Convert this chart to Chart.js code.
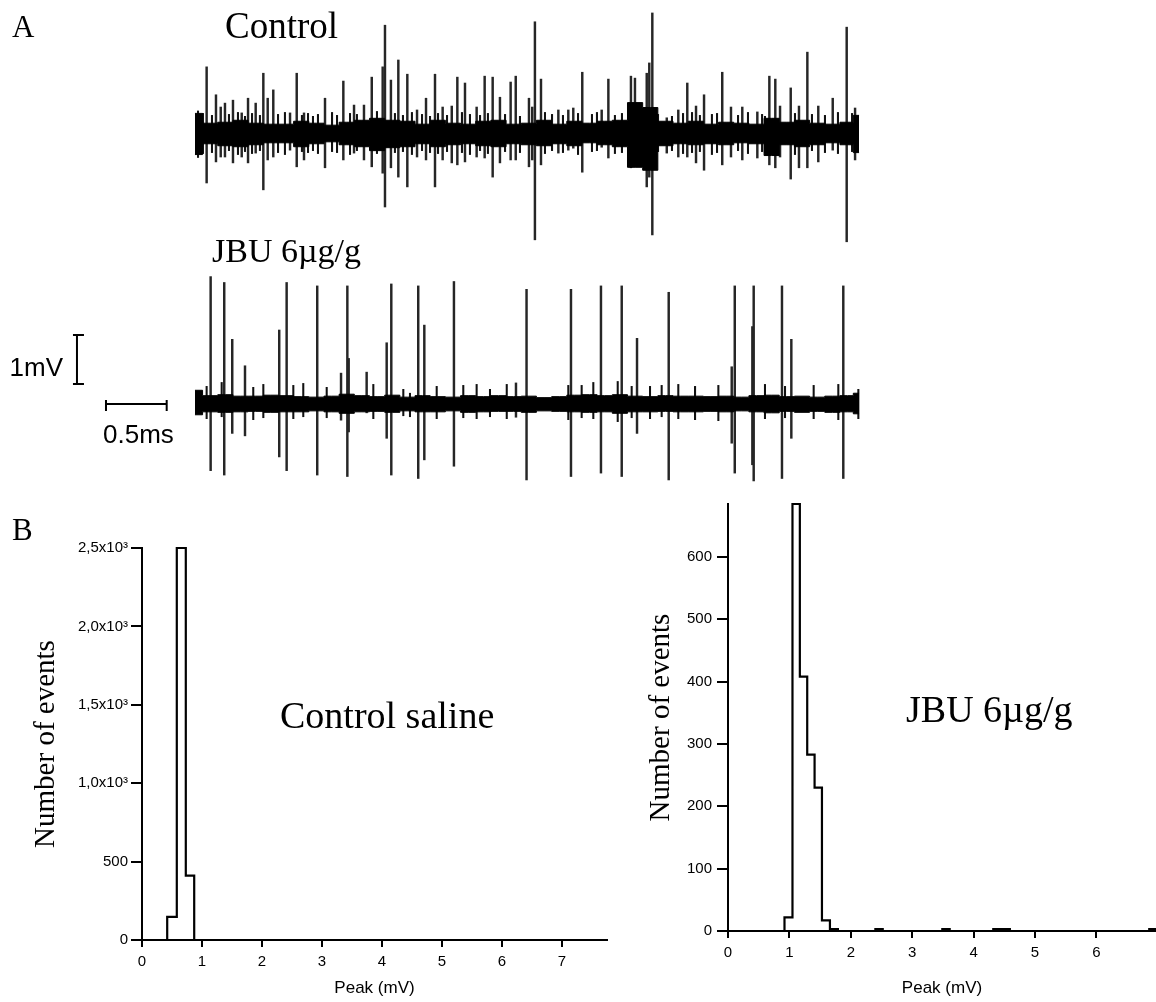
<!DOCTYPE html>
<html>
<head>
<meta charset="utf-8">
<script src="https://cdn.jsdelivr.net/npm/chart.js@4.4.1/dist/chart.umd.min.js"></script>
<style>
  html, body { margin: 0; padding: 0; background: #fff; }
  #fig { position: relative; width: 1156px; height: 1002px; overflow: hidden; }
  #fig canvas { position: absolute; }
  .lbl { position: absolute; line-height: 1; white-space: nowrap; color: #000;
         font-family: 'Times New Roman', 'Liberation Serif', serif; }
</style>
</head>
<body>
<div id="fig">
  <canvas id="traceCtrl" width="870" height="256" style="left:0;top:0"></canvas>
  <canvas id="traceJbu" width="870" height="234" style="left:0;top:256px"></canvas>
  <canvas id="histCtrl" width="620" height="502" style="left:0;top:500px"></canvas>
  <canvas id="histJbu" width="536" height="512" style="left:620px;top:490px"></canvas>

  <div class="lbl" style="left:12px;top:11px;font-size:31px">A</div>
  <div class="lbl" style="left:225px;top:7px;font-size:37px">Control</div>
  <div class="lbl" style="left:212px;top:234px;font-size:34px">JBU 6µg/g</div>
  <div class="lbl" style="left:12px;top:514px;font-size:31px">B</div>
  <div class="lbl" style="left:280px;top:696px;font-size:38px">Control saline</div>
  <div class="lbl" style="left:906px;top:690px;font-size:38px">JBU 6µg/g</div>
</div>

<script>
// ---- extracellular recordings (time in ms, amplitude in mV) ----
const T_MIN = -1.606, T_MAX = 5.56;

// noise band envelope, sampled along the sweep
const envT = [0, 0.125, 0.25, 0.375, 0.5, 0.625, 0.75, 0.875, 1.0, 1.125, 1.25, 1.375, 1.5, 1.625, 1.75,
  1.875, 2.0, 2.125, 2.25, 2.375, 2.5, 2.625, 2.75, 2.875, 3.0, 3.125, 3.25, 3.375, 3.5, 3.625,
  3.75, 3.875, 4.0, 4.125, 4.25, 4.375, 4.5, 4.625, 4.75, 4.875, 5.0, 5.125, 5.25, 5.375, 5.47];

const ctrlUpper = [0.4, 0.2, 0.22, 0.26, 0.2, 0.18, 0.18, 0.24, 0.2, 0.16, 0.22, 0.26, 0.3, 0.26, 0.24,
  0.18, 0.26, 0.2, 0.18, 0.24, 0.26, 0.18, 0.2, 0.26, 0.18, 0.24, 0.2, 0.24, 0.26, 0.62,
  0.52, 0.24, 0.2, 0.24, 0.18, 0.22, 0.2, 0.18, 0.3, 0.22, 0.26, 0.2, 0.18, 0.22, 0.36];
const ctrlLower = [-0.44, -0.22, -0.26, -0.28, -0.24, -0.2, -0.2, -0.28, -0.22, -0.18, -0.24, -0.28, -0.36, -0.3, -0.28,
  -0.22, -0.28, -0.24, -0.22, -0.26, -0.28, -0.22, -0.24, -0.26, -0.22, -0.26, -0.2, -0.24, -0.28, -0.7,
  -0.76, -0.26, -0.22, -0.24, -0.22, -0.24, -0.2, -0.22, -0.46, -0.24, -0.28, -0.24, -0.2, -0.24, -0.4];

const jbuUpper = [0.28, 0.17, 0.19, 0.16, 0.16, 0.18, 0.17, 0.15, 0.14, 0.16, 0.2, 0.17, 0.15, 0.18, 0.14,
  0.17, 0.15, 0.14, 0.17, 0.15, 0.17, 0.15, 0.16, 0.13, 0.15, 0.18, 0.19, 0.17, 0.19, 0.16,
  0.15, 0.17, 0.16, 0.16, 0.15, 0.16, 0.14, 0.17, 0.18, 0.15, 0.16, 0.14, 0.16, 0.17, 0.22];
const jbuLower = [-0.22, -0.16, -0.17, -0.16, -0.15, -0.17, -0.16, -0.16, -0.14, -0.16, -0.19, -0.16, -0.15, -0.17, -0.14,
  -0.16, -0.16, -0.14, -0.17, -0.16, -0.15, -0.15, -0.17, -0.14, -0.15, -0.16, -0.17, -0.16, -0.19, -0.16,
  -0.16, -0.15, -0.16, -0.16, -0.15, -0.16, -0.14, -0.16, -0.18, -0.15, -0.17, -0.15, -0.17, -0.16, -0.2];

// control: spike times with positive / negative peaks
const ctrlSpikeT = [0.096, 0.173, 0.212, 0.247, 0.313, 0.385, 0.437, 0.50, 0.563, 0.599, 0.645, 0.783,
  0.838, 0.898, 1.071, 1.222, 1.31, 1.392, 1.456, 1.546, 1.565, 1.614, 1.675, 1.749, 1.829, 1.903,
  1.977, 2.04, 2.115, 2.161, 2.224, 2.32, 2.386, 2.452, 2.512, 2.60, 2.642, 2.751, 2.778, 2.80, 2.85,
  2.993, 3.075, 3.116, 3.19, 3.35, 3.405, 3.591, 3.624, 3.666, 3.721, 3.742, 3.767, 3.886, 3.981,
  4.055, 4.127, 4.193, 4.343, 4.415, 4.508, 4.632, 4.731, 4.78, 4.819, 4.907, 4.975, 5.044, 5.134,
  5.253, 5.368, 5.437];
const ctrlSpikeUp = [1.35, 0.78, 0.53, 0.61, 0.67, 0.41, 0.71, 0.61, 1.22, 0.71, 0.88, 0.41,
  1.22, 0.41, 0.71, 1.06, 0.57, 0.57, 1.14, 1.35, 2.20, 1.08, 1.49, 1.20, 0.47, 0.71,
  1.20, 0.53, 0.55, 1.14, 1.02, 0.53, 1.16, 1.14, 0.73, 1.04, 1.16, 0.71, 0.53, 2.27, 1.10,
  0.47, 0.47, 0.51, 1.24, 0.47, 1.10, 1.16, 1.12, 0.43, 1.22, 1.43, 2.45, 0.31, 0.47,
  1.02, 0.55, 0.78, 1.24, 0.53, 0.53, 0.43, 1.16, 1.10, 0.55, 0.92, 0.55, 1.65, 0.55,
  0.71, 2.16, 0.51];
const ctrlSpikeDown = [-1.02, -0.59, -0.49, -0.49, -0.61, -0.49, -0.61, -0.41, -1.16, -0.55, -0.49, -0.35,
  -0.69, -0.55, -0.71, -0.55, -0.41, -0.55, -0.69, -0.82, -1.51, -0.71, -0.90, -1.10, -0.49, -0.55,
  -1.10, -0.55, -0.61, -0.65, -0.59, -0.49, -0.51, -0.90, -0.61, -0.55, -0.55, -0.69, -0.55, -2.18, -0.65,
  -0.41, -0.35, -0.31, -0.80, -0.29, -0.51, -0.71, -0.61, -0.51, -1.10, -0.90, -2.08, -0.41, -0.49,
  -0.49, -0.61, -0.76, -0.65, -0.49, -0.55, -0.51, -0.65, -0.71, -0.49, -0.94, -0.71, -0.71, -0.59,
  -0.35, -2.22, -0.55];

// control: short deflections at the edge of the noise
const ctrlSmallT = [0.025, 0.066, 0.14, 0.28, 0.354, 0.412, 0.47, 0.535, 0.684, 0.741, 0.881, 0.931,
  0.972, 1.013, 1.129, 1.17, 1.277, 1.334, 1.499, 1.647, 1.713, 1.787, 1.87, 1.936, 2.002, 2.076,
  2.199, 2.265, 2.348, 2.413, 2.554, 2.677, 2.883, 2.941, 3.031, 3.155, 3.27, 3.311, 3.459, 3.517,
  3.814, 3.929, 4.02, 4.094, 4.159, 4.258, 4.3, 4.473, 4.555, 4.671, 4.695, 4.942, 5.082, 5.189,
  5.296, 5.412];
const ctrlSmallUp = [0.45, 0.4, 0.36, 0.38, 0.42, 0.34, 0.4, 0.36, 0.38, 0.42, 0.36, 0.4,
  0.34, 0.38, 0.42, 0.36, 0.4, 0.38, 0.44, 0.4, 0.36, 0.42, 0.38, 0.34, 0.4, 0.36,
  0.42, 0.38, 0.36, 0.4, 0.38, 0.34, 0.42, 0.38, 0.36, 0.4, 0.38, 0.42, 0.36, 0.4,
  0.38, 0.34, 0.4, 0.42, 0.36, 0.38, 0.4, 0.36, 0.42, 0.38, 0.34, 0.4, 0.38, 0.36,
  0.42, 0.4];
const ctrlSmallDown = [-0.5, -0.42, -0.4, -0.36, -0.44, -0.38, -0.42, -0.36, -0.4, -0.44, -0.38, -0.4,
  -0.36, -0.42, -0.38, -0.4, -0.44, -0.36, -0.42, -0.4, -0.38, -0.44, -0.36, -0.4, -0.42, -0.38,
  -0.4, -0.44, -0.36, -0.42, -0.38, -0.4, -0.42, -0.36, -0.4, -0.44, -0.38, -0.36, -0.42, -0.4,
  -0.38, -0.36, -0.42, -0.4, -0.38, -0.44, -0.4, -0.36, -0.42, -0.38, -0.4, -0.44, -0.36, -0.4,
  -0.42, -0.38];

// JBU 6µg/g: large units
const jbuSpikeT = [0.129, 0.241, 0.307, 0.412, 0.694, 0.755, 1.007, 1.203, 1.255, 1.266, 1.414, 1.579,
  1.617, 1.839, 1.889, 2.133, 2.644, 2.731, 3.097, 3.344, 3.515, 3.641, 3.902, 4.421, 4.446, 4.591,
  4.602, 4.835, 4.912, 5.340];
const jbuSpikeUp = [2.60, 2.48, 1.32, 0.78, 1.51, 2.48, 2.41, 0.63, 2.41, 0.93, 0.65, 1.25,
  2.45, 2.41, 1.61, 2.50, 0.43, 2.34, 2.34, 2.41, 2.41, 1.34, 2.28, 0.76, 2.41, 1.58,
  2.41, 2.41, 1.32, 2.41];
const jbuSpikeDown = [-1.36, -1.45, -0.60, -0.65, -1.08, -1.36, -1.45, -0.33, -1.48, -0.57, -0.18, -0.70,
  -1.45, -1.52, -1.14, -1.27, -0.27, -1.55, -1.48, -1.41, -1.48, -0.60, -1.55, -0.80, -1.41, -1.24,
  -1.57, -1.52, -0.70, -1.52];

// JBU 6µg/g: small deflections riding on the noise
const jbuSmallT = [0.096, 0.22, 0.48, 0.563, 0.81, 0.892, 1.085, 1.469, 1.716, 1.771, 1.991, 2.21,
  2.32, 2.43, 2.568, 3.075, 3.185, 3.281, 3.482, 3.597, 3.748, 3.844, 3.981, 4.119, 4.311, 4.695,
  4.86, 5.096, 5.299, 5.464];
const jbuSmallUp = [0.36, 0.44, 0.34, 0.4, 0.38, 0.42, 0.34, 0.4, 0.3, 0.22, 0.36, 0.38,
  0.4, 0.3, 0.4, 0.38, 0.38, 0.44, 0.46, 0.36, 0.36, 0.38, 0.4, 0.36, 0.38, 0.4,
  0.36, 0.38, 0.4, 0.3];
const jbuSmallDown = [-0.3, -0.26, -0.32, -0.28, -0.3, -0.26, -0.28, -0.3, -0.24, -0.26, -0.3, -0.28,
  -0.3, -0.26, -0.3, -0.32, -0.28, -0.3, -0.36, -0.28, -0.3, -0.26, -0.3, -0.32, -0.34, -0.3,
  -0.28, -0.3, -0.32, -0.3];

// ---- peak amplitude histograms (bin edges in mV, counts) ----
const ctrlEdges = [0.42, 0.58, 0.73, 0.87];
const ctrlCounts = [147, 2500, 410];
const jbuEdges = [0.92, 1.05, 1.17, 1.29, 1.41, 1.53, 1.66, 1.79, 2.40, 2.52, 3.49, 3.61, 4.32, 4.59, 6.86, 6.97];
const jbuCounts = [22, 685, 408, 283, 230, 17, 3, 0, 3, 0, 3, 0, 3, 0, 3];

const sansFont = "Arial, 'Liberation Sans', sans-serif";
const serifFont = "'Times New Roman', 'Liberation Serif', serif";
const ink = '#000';

const spikeBars = (t, up, down) => t.map((v, i) => ({ x: v, y: [down[i], up[i]] }));
const series = (t, v) => t.map((x, i) => ({ x, y: v[i] }));

function noiseBand(upper, lower) {
  const line = { type: 'line', borderColor: ink, borderWidth: 1, pointRadius: 0, stepped: 'middle' };
  return [
    { ...line, data: series(envT, upper), fill: '+1', backgroundColor: ink },
    { ...line, data: series(envT, lower), fill: false },
  ];
}

function spikes(t, up, down, width, color) {
  return { type: 'bar', data: spikeBars(t, up, down), backgroundColor: color, barThickness: width, borderWidth: 0 };
}

function traceChart(el, yMin, yMax, datasets, plugins) {
  return new Chart(el, {
    type: 'bar',
    data: { datasets },
    options: {
      responsive: false,
      animation: false,
      devicePixelRatio: 1,
      layout: { padding: 0 },
      plugins: { legend: { display: false }, tooltip: { enabled: false } },
      scales: {
        x: { type: 'linear', min: T_MIN, max: T_MAX, display: false, offset: false, stacked: true },
        y: { min: yMin, max: yMax, display: false },
      },
    },
    plugins: plugins || [],
  });
}

// 1 mV / 0.5 ms calibration bars, drawn through the trace scales
const scaleBars = {
  id: 'scaleBars',
  afterDraw(chart) {
    const { ctx, scales: { x, y } } = chart;
    ctx.save();
    ctx.strokeStyle = ink;
    ctx.lineWidth = 2;

    const vx = x.getPixelForValue(-0.972);
    const vTop = y.getPixelForValue(1.41), vBot = y.getPixelForValue(0.41);
    ctx.beginPath();
    ctx.moveTo(vx, vTop); ctx.lineTo(vx, vBot);
    ctx.moveTo(vx - 4, vTop); ctx.lineTo(vx + 7, vTop);
    ctx.moveTo(vx - 4, vBot); ctx.lineTo(vx + 7, vBot);
    ctx.stroke();

    const hy = y.getPixelForValue(0);
    const h0 = x.getPixelForValue(-0.733), h1 = x.getPixelForValue(-0.233);
    ctx.beginPath();
    ctx.moveTo(h0, hy); ctx.lineTo(h1, hy);
    ctx.moveTo(h0, hy - 4); ctx.lineTo(h0, hy + 7);
    ctx.moveTo(h1, hy - 4); ctx.lineTo(h1, hy + 7);
    ctx.stroke();

    ctx.fillStyle = ink;
    ctx.font = '26px ' + sansFont;
    ctx.textBaseline = 'alphabetic';
    ctx.textAlign = 'right';
    ctx.fillText('1mV', vx - 14, (vTop + vBot) / 2 + 17);
    ctx.textAlign = 'left';
    ctx.fillText('0.5ms', h0 - 3, hy + 39);
    ctx.restore();
  },
};

traceChart(document.getElementById('traceCtrl'), -2.5102, 2.7143, [
  ...noiseBand(ctrlUpper, ctrlLower),
  spikes(ctrlSmallT, ctrlSmallUp, ctrlSmallDown, 1.4, '#111'),
  spikes(ctrlSpikeT, ctrlSpikeUp, ctrlSpikeDown, 1.8, '#262626'),
]);

traceChart(document.getElementById('traceJbu'), -1.7551, 3.0204, [
  ...noiseBand(jbuUpper, jbuLower),
  spikes(jbuSpikeT, jbuSpikeUp, jbuSpikeDown, 1.8, '#262626'),
  spikes(jbuSmallT, jbuSmallUp, jbuSmallDown, 1.4, '#111'),
], [scaleBars]);

// ---- histograms drawn as stepped outlines ----
function outline(edges, counts) {
  const pts = [{ x: edges[0], y: 0 }];
  counts.forEach((c, i) => pts.push({ x: edges[i], y: c }));
  pts.push({ x: edges[edges.length - 1], y: 0 });
  return pts;
}

const sciLabel = (v) => (v >= 1000 ? (v / 1000).toFixed(1).replace('.', ',') + 'x10³' : String(v));

function histogram(el, edges, counts, o) {
  return new Chart(el, {
    type: 'line',
    data: {
      datasets: [{
        data: outline(edges, counts),
        stepped: 'before',
        borderColor: ink,
        borderWidth: 2.2,
        pointRadius: 0,
        fill: false,
        clip: 6,
      }],
    },
    options: {
      responsive: false,
      animation: false,
      devicePixelRatio: 1,
      layout: { padding: o.padding },
      plugins: { legend: { display: false }, tooltip: { enabled: false } },
      scales: {
        x: {
          type: 'linear',
          min: 0,
          max: o.xMax,
          afterFit: (s) => { s.height = o.xAxisHeight; },
          border: { color: ink, width: 2 },
          grid: { drawOnChartArea: false, color: ink, lineWidth: 2, tickLength: 7 },
          ticks: { stepSize: 1, includeBounds: false, maxRotation: 0, color: ink, padding: 6,
                   font: { family: sansFont, size: 15 } },
          title: { display: true, text: 'Peak (mV)', color: ink,
                   font: { family: sansFont, size: 17 }, padding: { top: 0, bottom: 3.3 } },
        },
        y: {
          min: 0,
          max: o.yMax,
          afterFit: (s) => { s.width = o.yAxisWidth; },
          border: { color: ink, width: 2 },
          grid: { drawOnChartArea: false, color: ink, lineWidth: 2, tickLength: 11 },
          ticks: { stepSize: o.yStep, includeBounds: false, color: ink, padding: o.yTickPad,
                   font: { family: sansFont, size: 15 }, callback: sciLabel },
          title: { display: true, text: 'Number of events', color: ink,
                   font: { family: serifFont, size: 29 }, padding: { top: o.yTitlePad, bottom: 0 } },
        },
      },
    },
  });
}

histogram(document.getElementById('histCtrl'), ctrlEdges, ctrlCounts, {
  padding: { left: 0, top: 48, right: 13, bottom: 0 },
  xMax: 7.75, xAxisHeight: 62, yMax: 2500, yStep: 500, yAxisWidth: 142, yTickPad: 3, yTitlePad: 28.6,
});

histogram(document.getElementById('histJbu'), jbuEdges, jbuCounts, {
  padding: { left: 0, top: 14, right: 0, bottom: 0 },
  xMax: 6.97, xAxisHeight: 71, yMax: 685, yStep: 100, yAxisWidth: 108, yTickPad: 5, yTitlePad: 23.6,
});
</script>
</body>
</html>
